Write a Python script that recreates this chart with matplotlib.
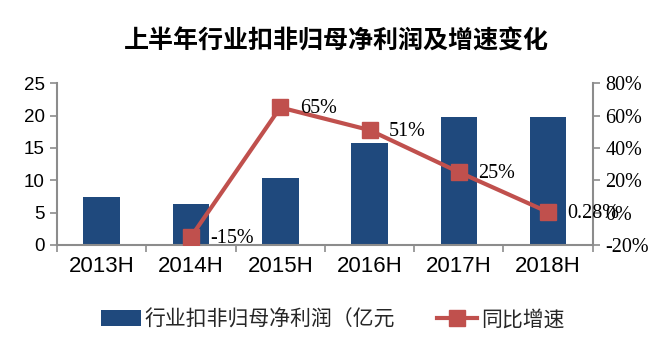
import matplotlib.pyplot as plt
import numpy as np

plt.rcParams['font.family'] = ['Noto Sans CJK SC', 'DejaVu Sans']

categories = ['2013H', '2014H', '2015H', '2016H', '2017H', '2018H']
profit = [7.4, 6.3, 10.3, 15.8, 19.8, 19.8]          # 亿元
growth_cats = ['2014H', '2015H', '2016H', '2017H', '2018H']
growth = [-15, 65, 51, 25, 0.28]                      # %
growth_labels = ['-15%', '65%', '51%', '25%', '0.28%']

bar_color = '#1F497D'
line_color = '#C0504D'
spine_color = '#8C8C8C'

fig = plt.figure(figsize=(6.72, 3.57), dpi=100)
ax = fig.add_axes([0.085, 0.314, 0.797, 0.453])
x = np.arange(len(categories))
bars = ax.bar(x, profit, width=0.41, color=bar_color, zorder=2,
              label='行业扣非归母净利润（亿元')
ax.set_xlim(-0.5, len(categories) - 0.5)
ax.set_ylim(0, 25)
ax.set_yticks([0, 5, 10, 15, 20, 25])
ax.set_xticks(x)
ax.set_xticklabels(categories, family='Liberation Sans', fontsize=16)
ax.set_xticks(np.arange(-0.5, len(categories)), minor=True)
ax.tick_params(axis='x', which='major', length=0, pad=8)
ax.tick_params(axis='x', which='minor', length=5, color=spine_color, width=1.2)
ax.tick_params(axis='y', length=5, color=spine_color, width=1.2, labelsize=13.5, pad=4)
for lab in ax.get_yticklabels():
    lab.set_family('Liberation Sans')
for s in ['top', 'right']:
    ax.spines[s].set_visible(False)
for s in ['left', 'bottom']:
    ax.spines[s].set_color(spine_color)
    ax.spines[s].set_linewidth(1.5)

ax2 = ax.twinx()
gx = [categories.index(c) for c in growth_cats]
line, = ax2.plot(gx, growth, color=line_color, lw=3, marker='s', markersize=11,
                 zorder=3, label='同比增速')
ax2.set_ylim(-20, 80)
ax2.set_yticks(range(-20, 81, 20))
ax2.set_yticklabels([f'{v}%' for v in range(-20, 81, 20)],
                    family='Liberation Serif', fontsize=14.5)
ax2.tick_params(axis='y', length=5, color=spine_color, width=1.2, pad=4)
for s in ['top', 'left', 'bottom']:
    ax2.spines[s].set_visible(False)
ax2.spines['right'].set_color(spine_color)
ax2.spines['right'].set_linewidth(1.5)

for xi, yi, t in zip(gx, growth, growth_labels):
    ax2.annotate(t, (xi, yi), xytext=(14, -1), textcoords='offset points',
                 ha='left', va='center', family='Liberation Serif', fontsize=14.5)

fig.text(0.5, 0.885, '上半年行业扣非归母净利润及增速变化', ha='center', va='center',
         fontsize=18, fontweight='bold')

leg = fig.legend([bars, line], ['行业扣非归母净利润（亿元', '同比增速'],
                 loc='center', bbox_to_anchor=(0.495, 0.105), ncol=2, frameon=False,
                 fontsize=15, handlelength=1.9, handleheight=0.8, columnspacing=2.0,
                 handletextpad=0.2)
for t in leg.get_texts():
    t.set_color('#262626')

fig.savefig('out.png', dpi=100)
